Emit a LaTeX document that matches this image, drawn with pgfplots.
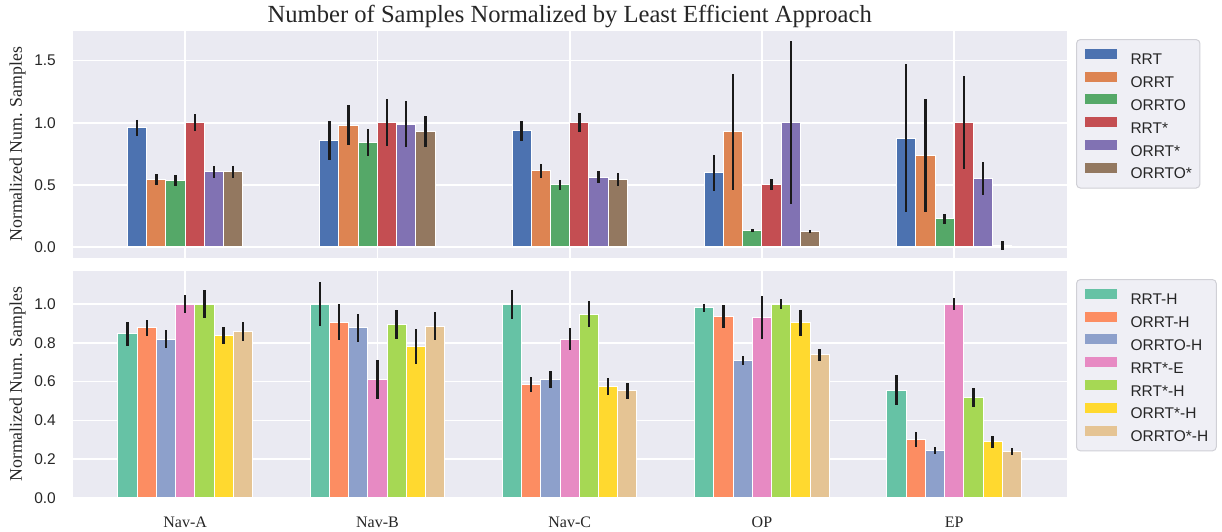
\documentclass[border=0pt]{standalone}
\usepackage{fontspec}
\setmainfont{Liberation Serif}
\newfontfamily\sansf{Liberation Sans}
\usepackage{pgfplots}
\usepackage{pgfplotstable}
\pgfplotsset{compat=1.18}

\definecolor{bgcol}{HTML}{EAEAF2}
\definecolor{txtcol}{HTML}{262626}
\definecolor{errcol}{HTML}{1A1A1A}
\definecolor{legdraw}{HTML}{D0D0D6}
\colorlet{legbg}{bgcol!75!white}
% seaborn deep
\definecolor{d1}{HTML}{4C72B0}
\definecolor{d2}{HTML}{DD8452}
\definecolor{d3}{HTML}{55A868}
\definecolor{d4}{HTML}{C44E52}
\definecolor{d5}{HTML}{8172B3}
\definecolor{d6}{HTML}{937860}
% Set2
\definecolor{s1}{HTML}{66C2A5}
\definecolor{s2}{HTML}{FC8D62}
\definecolor{s3}{HTML}{8DA0CB}
\definecolor{s4}{HTML}{E78AC3}
\definecolor{s5}{HTML}{A6D854}
\definecolor{s6}{HTML}{FFD92F}
\definecolor{s7}{HTML}{E5C494}

% mean and std per environment (0 Nav-A, 1 Nav-B, 2 Nav-C, 3 OP, 4 EP)
\pgfplotstableread{
x RRT  RRTe  ORRT  ORRTe ORRTO ORRTOe RRTs RRTse ORRTs ORRTse ORRTOs ORRTOse
0 0.961 0.064 0.541 0.045 0.533 0.042 1.000 0.070 0.604 0.047 0.604 0.051
1 0.856 0.156 0.979 0.161 0.839 0.109 1.000 0.190 0.988 0.187 0.927 0.126
2 0.934 0.078 0.612 0.056 0.500 0.040 1.000 0.078 0.562 0.048 0.543 0.050
3 0.596 0.145 0.926 0.470 0.131 0.015 0.500 0.043 1.000 0.655 0.123 0.015
4 0.875 0.595 0.736 0.455 0.225 0.038 1.000 0.374 0.550 0.130 0.013 0.035
}\toptab

\pgfplotstableread{
x RRTH RRTHe ORRTH ORRTHe ORRTOH ORRTOHe RRTsE RRTsEe RRTsH RRTsHe ORRTsH ORRTsHe ORRTOsH ORRTOsHe
0 0.846 0.060 0.877 0.040 0.820 0.047 1.000 0.046 1.000 0.072 0.837 0.045 0.859 0.047
1 1.000 0.114 0.907 0.094 0.877 0.072 0.612 0.100 0.897 0.075 0.780 0.090 0.887 0.071
2 1.000 0.075 0.583 0.039 0.612 0.044 0.820 0.055 0.949 0.066 0.573 0.044 0.552 0.041
3 0.981 0.022 0.937 0.058 0.707 0.023 0.931 0.112 1.000 0.025 0.904 0.066 0.738 0.033
4 0.556 0.078 0.302 0.040 0.244 0.017 1.000 0.030 0.518 0.047 0.290 0.031 0.238 0.017
}\bottab

\pgfplotsset{
  panel/.style={
    scale only axis, width=497pt, height=113.5pt,
    axis background/.style={fill=bgcol},
    axis line style={draw=none},
    major tick length=0pt,
    xmajorgrids, ymajorgrids,
    major grid style={draw=white, line width=0.8pt},
    xmin=-0.585, xmax=4.585, xtick={0,1,2,3,4},
    ybar, bar width=0.1,
    /pgf/number format/assume math mode=true,
    yticklabel style={font=\sansf\fontsize{7.75}{9}\selectfont, text=txtcol, xshift=-4.9pt,
      /pgf/number format/fixed, /pgf/number format/fixed zerofill, /pgf/number format/precision=1},
    xticklabel style={font=\fontsize{8}{9.6}\selectfont, text=txtcol, yshift=-6pt},
    ylabel={Normalized Num. Samples},
    ylabel style={at={(axis description cs:-0.0555,0.5)}, anchor=center,
      font=\fontsize{8.9}{10}\selectfont, text=txtcol},
    every axis plot/.append style={draw=white, line width=0.5pt},
    error bars/y dir=both, error bars/y explicit,
    error bars/error mark=none,
    error bars/error bar style={draw=errcol, line width=1.2pt},
    legend image code/.code={\path[##1, draw=none, sharp corners] (0pt,0.3pt) rectangle (16pt,5.3pt);},
    legend cell align=left,
    legend style={at={(1,1)}, anchor=north west, xshift=4.65pt, yshift=-4.15pt,
      fill=legbg, draw=legdraw, line width=0.5pt, rounded corners=2pt,
      font=\sansf\fontsize{7.75}{9}\selectfont, text=txtcol,
      inner xsep=4pt, inner ysep=4.6pt, row sep=3.3pt, column sep=7pt,
      nodes={inner sep=0pt, text height=5.6pt, text depth=0pt}},
  },
}

\begin{document}
\begin{tikzpicture}
\useasboundingbox (0,0) rectangle (611pt,-265.5pt);

\begin{axis}[panel, at={(36.35pt,-15.35pt)}, anchor=north west,
  title={Number of Samples Normalized by Least Efficient Approach},
  every axis title/.style={at={(0.5,1)}, anchor=base, yshift=4pt,
    font=\fontsize{12.3}{14}\selectfont, text=txtcol},
  ymin=-0.087, ymax=1.741, ytick={0,0.5,1,1.5}, xticklabels={}]
\addplot[fill=d1, bar shift=-0.25] table[x=x, y=RRT, y error=RRTe] {\toptab};
\addlegendentry{RRT}
\addplot[fill=d2, bar shift=-0.15] table[x=x, y=ORRT, y error=ORRTe] {\toptab};
\addlegendentry{ORRT}
\addplot[fill=d3, bar shift=-0.05] table[x=x, y=ORRTO, y error=ORRTOe] {\toptab};
\addlegendentry{ORRTO}
\addplot[fill=d4, bar shift=0.05] table[x=x, y=RRTs, y error=RRTse] {\toptab};
\addlegendentry{RRT*}
\addplot[fill=d5, bar shift=0.15] table[x=x, y=ORRTs, y error=ORRTse] {\toptab};
\addlegendentry{ORRT*}
\addplot[fill=d6, bar shift=0.25] table[x=x, y=ORRTOs, y error=ORRTOse] {\toptab};
\addlegendentry{ORRTO*}
\end{axis}

\begin{axis}[panel, at={(36.35pt,-135.35pt)}, anchor=north west,
  ymin=0, ymax=1.173, ytick={0,0.2,0.4,0.6,0.8,1.0},
  xticklabels={Nav-A,Nav-B,Nav-C,OP,EP}]
\addplot[fill=s1, bar shift=-0.3] table[x=x, y=RRTH, y error=RRTHe] {\bottab};
\addlegendentry{RRT-H}
\addplot[fill=s2, bar shift=-0.2] table[x=x, y=ORRTH, y error=ORRTHe] {\bottab};
\addlegendentry{ORRT-H}
\addplot[fill=s3, bar shift=-0.1] table[x=x, y=ORRTOH, y error=ORRTOHe] {\bottab};
\addlegendentry{ORRTO-H}
\addplot[fill=s4, bar shift=0] table[x=x, y=RRTsE, y error=RRTsEe] {\bottab};
\addlegendentry{RRT*-E}
\addplot[fill=s5, bar shift=0.1] table[x=x, y=RRTsH, y error=RRTsHe] {\bottab};
\addlegendentry{RRT*-H}
\addplot[fill=s6, bar shift=0.2] table[x=x, y=ORRTsH, y error=ORRTsHe] {\bottab};
\addlegendentry{ORRT*-H}
\addplot[fill=s7, bar shift=0.3] table[x=x, y=ORRTOsH, y error=ORRTOsHe] {\bottab};
\addlegendentry{ORRTO*-H}
\end{axis}
\end{tikzpicture}
\end{document}
